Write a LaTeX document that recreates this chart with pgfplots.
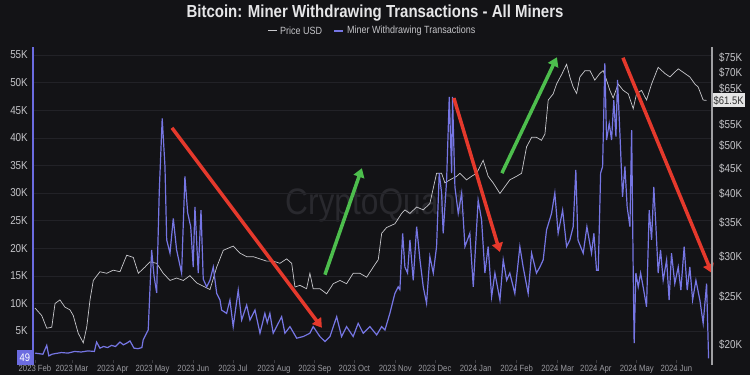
\documentclass[border=0pt]{standalone}
\usepackage{fontspec}
\setmainfont{Liberation Sans}[FakeStretch=0.86]
\usepackage{pgfplots}
\usepackage{pgfplotstable}
\pgfplotsset{compat=1.18}
\usetikzlibrary{arrows.meta}
\definecolor{bg}{HTML}{131316}
\definecolor{gridc}{HTML}{222227}
\definecolor{tickc}{HTML}{3a3a40}
\definecolor{labc}{HTML}{C4C4C8}
\definecolor{xlabc}{HTML}{9A9AA0}
\definecolor{titlec}{HTML}{E6E6E8}
\definecolor{wm}{HTML}{29292E}
\definecolor{minerc}{HTML}{7676E4}
\definecolor{pricec}{HTML}{C8C8CC}
\definecolor{arrowred}{HTML}{E5392C}
\definecolor{arrowgreen}{HTML}{4DBE4D}
\definecolor{boxblue}{HTML}{6B6BE0}

\pgfplotstableread{
day val
0 1.0
6 0.8
8.9 2.4
10.5 0.5
13 0.8
15 0.9
20 1.1
25 1.0
30 1.3
35 1.2
40 1.4
45 1.3
46.7 3.0
49.2 1.9
52 2.2
55 2.0
58 2.4
61 2.2
64.4 3.0
67 2.5
69.5 2.8
72 3.2
75 1.9
78 1.8
81 2.0
82 3.4
85.8 5.2
88.4 19.7
90.2 15.0
92.2 11.9
94.2 30.5
96.4 43.5
98.5 34.8
99.8 21.5
102.3 19.1
104.8 25.4
107.3 19.7
111.1 15.5
113.6 33.0
115.7 26.4
118 23.9
119.9 16.6
121.2 27.5
123.7 15.5
125.8 26.9
127.5 14.4
130.1 13.0
132.6 14.2
135.1 16.6
137.7 11.8
140.2 10.6
141.4 8.8
145.2 8.2
147.7 10.6
150.2 5.8
154 12.4
156.6 7.0
160.4 9.7
162.9 7.0
166.7 8.8
170.5 4.6
174.2 8.2
176 6.5
178 8.2
180.5 4.6
186.9 7.6
189.4 4.6
193.2 5.8
198.3 3.7
203.3 4.0
208.3 4.6
210.8 5.8
215.9 4.0
219.7 3.1
223.5 4.0
228.6 7.6
232.3 4.0
236.1 5.8
241.1 4.0
244.9 6.4
248.7 4.6
253.8 5.8
258.9 4.3
262.7 5.8
265.2 5.2
268.9 8.2
272.7 11.8
275.2 13.0
276.5 12.5
278.6 22.7
280.3 16.6
282.3 15.5
284.1 21.5
286.6 14.2
289.2 23.9
291.7 17.9
294.2 13.0
296.7 10.0
299.2 18.5
301.8 15.5
304.3 20.3
306.3 33.6
308.1 30.0
309.3 22.7
311.9 32.3
313.9 47.4
315.7 33.6
316.4 47.4
318.2 31.1
320.7 26.3
323.3 30.0
325.8 20.3
329.5 22.7
332.1 13.0
335.8 28.7
338.4 25.1
340.9 15.5
343.4 20.3
346 11.2
348.5 15.5
352.3 10.6
354.8 17.9
357.4 14.2
359.8 15.5
363.6 11.8
367.4 20.3
369.9 16.6
373.7 11.8
376.3 19.1
380 15.5
382.6 16.6
385.1 17.9
387.6 23.3
391.4 26.3
393.9 30.0
396.4 22.7
399.8 26.9
402.8 20.3
405.3 21.5
407.8 23.9
409.8 34.2
411.4 21.5
415.4 19.1
418.2 23.9
421.7 19.1
423.5 22.7
425.5 16.0
426.8 16.0
428.6 33.6
430.1 34.8
431.8 53.5
433.1 39.6
435.1 42.6
436.9 39.6
438.6 46.8
440.2 40.2
441.4 50.5
443.2 40.8
445.2 29.3
447 34.8
448.7 27.5
450.8 23.9
452.1 41.4
453.3 15.5
454 2.8
455.3 15.5
457.1 13.0
458.9 15.5
460.8 13.0
463.4 9.4
465.4 26.9
467.2 21.5
468.9 31.1
470.5 23.9
472.2 15.5
474 19.7
476 14.2
478.6 17.9
480.5 10.6
482.3 19.1
484.8 13.6
487.4 16.6
489.4 12.4
491.9 20.3
494.2 12.4
496.2 16.6
498.3 10.6
500.8 14.2
503.8 10.6
506.3 6.4
508.9 13.6
510.4 0.049
}\minertable

\pgfplotstableread{
day val
0 23.7
5.1 22.9
8.9 21.6
12.7 21.7
15.2 24.2
18.9 24.6
22.7 23.8
26.5 23.5
29 22.9
32.8 21.1
36.6 20.2
39.2 21.7
41.7 24.6
44.2 26.9
49.2 28.0
54.3 27.8
59.3 28.2
64.4 28.0
69.5 30.2
74.5 29.9
78.3 27.8
83.3 28.6
87.1 29.3
92.2 29.1
97.2 27.8
102.3 26.9
107.3 27.2
112.4 26.9
117.4 27.5
122.5 26.6
127.5 26.2
132.6 25.8
137.7 28.6
142.7 30.9
150.2 31.5
155.3 30.5
160.4 30.0
165.4 30.0
170.5 29.7
175.5 29.4
180.5 29.4
185.6 29.1
190.7 29.7
194.5 29.1
197 26.1
200.8 26.3
205.8 25.9
208.3 27.8
210.8 25.9
215.9 25.9
221 25.3
226 26.5
231.1 26.9
236.1 26.5
241.1 27.8
246.2 27.8
251.3 27.3
256.3 28.6
260.1 29.6
262.7 33.4
266.4 34.3
272.7 34.9
277.8 36.6
280.3 37.2
284.1 36.6
289.2 37.7
294.2 37.2
299.2 38.3
304.3 44.0
308.1 44.0
310.6 42.1
314.4 42.7
319.5 43.4
322 44.0
327 42.7
330.8 43.4
334.6 44.0
339.6 46.7
343.4 43.4
347.2 42.1
352.3 40.1
356.1 41.4
359.8 42.7
364.9 43.4
368.7 44.0
372.5 49.7
376.3 51.9
380 51.9
383.8 51.2
386.4 52.7
388.9 61.6
392.7 63.4
395.2 66.3
399 69.2
402.8 72.6
405.5 68.2
407.8 65.4
410.4 63.5
412.9 68.5
416.7 70.5
420.5 70.5
424.2 67.5
428 69.6
430.5 70.5
433.1 67.5
435.6 64.4
438.1 62.2
441.9 66.3
445.7 64.4
449.5 63.4
453.3 59.2
455.8 63.4
459.6 64.4
463.4 61.6
467.2 66.3
472.2 71.6
477.3 69.6
481.1 68.5
487.4 71.1
492.4 69.6
496.2 68.5
500 66.3
502.5 65.4
506.3 61.6
508.9 61.5
}\pricetable

\begin{document}
\begin{tikzpicture}[x=1bp,y=1bp]
\fill[bg] (0,0) rectangle (750,375);
\useasboundingbox (0,0) rectangle (750,375);
\node[font=\fontsize{17.5}{19}\selectfont\bfseries, text=titlec] at (375,362) {Bitcoin: Miner Withdrawing Transactions - All Miners};
\draw[pricec, line width=1bp] (268,344) -- (277,344);
\node[anchor=west, inner sep=0pt, font=\fontsize{10.5}{12}\selectfont, text=labc] at (280,344) {Price USD};
\draw[minerc, line width=1.4bp] (334,344) -- (343,344);
\node[anchor=west, inner sep=0pt, font=\fontsize{10.5}{12}\selectfont, text=labc] at (347,344) {Miner Withdrawing Transactions};
\node[font=\fontsize{37}{37}\selectfont, text=wm] at (375,170) {CryptoQuant};

\begin{axis}[at={(33bp,15bp)}, anchor=south west, scale only axis,
  width=679bp, height=313bp,
  xmin=-1.5, xmax=513, ymin=-0.25, ymax=56.45,
  axis line style={draw=none},
  ymajorgrids, grid style={color=gridc, line width=0.6bp},
  xtick={0,28,59,89,120,150,181,212,242,273,303,334,365,396,425,456,486},
  xticklabels={2023 Feb,2023 Mar,2023 Apr,2023 May,2023 Jun,2023 Jul,2023 Aug,2023 Sep,2023 Oct,2023 Nov,2023 Dec,2024 Jan,2024 Feb,2024 Mar,2024 Apr,2024 May,2024 Jun},
  xtick pos=bottom, xtick align=outside, major tick length=3bp,
  xtick style={color=tickc, line width=0.6bp},
  xticklabel style={font=\fontsize{9}{10}\selectfont, text=xlabc, anchor=base, inner sep=0pt},
  xticklabel shift=8bp,
  ytick={5,10,...,55},
  yticklabels={5K,10K,15K,20K,25K,30K,35K,40K,45K,50K,55K},
  ytick pos=left, ytick style={draw=none},
  yticklabel style={font=\fontsize{11.5}{12}\selectfont, text=labc, anchor=east, inner sep=0pt, xshift=-5bp},
]
\end{axis}

\begin{axis}[at={(33bp,15bp)}, anchor=south west, scale only axis,
  width=679bp, height=313bp,
  xmin=-1.5, xmax=513, ymode=log, ymin=18.67, ymax=78.6,
  axis line style={draw=none}, xtick=\empty,
  ytick={20,25,30,35,40,45,50,55,65,70,75},
  yticklabels={\$20K,\$25K,\$30K,\$35K,\$40K,\$45K,\$50K,\$55K,\$65K,\$70K,\$75K},
  ytick pos=right, ytick style={draw=none},
  yticklabel style={font=\fontsize{11.5}{12}\selectfont, text=labc, anchor=west, inner sep=0pt, xshift=7bp},
  clip mode=individual,
]
\addplot[pricec, line width=0.7bp, mark=none] table[x=day, y=val] {\pricetable};
\node[anchor=west, fill=white!90!black, text=black!80, inner sep=1.5bp, minimum height=14bp, font=\fontsize{11}{12}\selectfont] at (axis cs:513,61.5) {\$61.5K};
\end{axis}

\begin{axis}[at={(33bp,15bp)}, anchor=south west, scale only axis,
  width=679bp, height=313bp,
  xmin=-1.5, xmax=513, ymin=-0.25, ymax=56.45,
  hide axis, clip mode=individual,
]
\addplot[minerc, line width=1.2bp, mark=none] table[x=day, y=val] {\minertable};
\draw[arrowred, line width=3.5bp, -{Triangle[length=9bp, width=11bp]}] (axis cs:103.8,41.8) -- (axis cs:217.4,5.6);
\draw[arrowgreen, line width=3.5bp, -{Triangle[length=9bp, width=11bp]}] (axis cs:219.7,15.2) -- (axis cs:247.7,34.5);
\draw[arrowred, line width=3.5bp, -{Triangle[length=9bp, width=11bp]}] (axis cs:317.4,47.2) -- (axis cs:352.3,19.3);
\draw[arrowgreen, line width=3.5bp, -{Triangle[length=9bp, width=11bp]}] (axis cs:353.8,33.6) -- (axis cs:395.5,54.6);
\draw[arrowred, line width=3.5bp, -{Triangle[length=9bp, width=11bp]}] (axis cs:445.5,54.5) -- (axis cs:512.9,15.5);
\node[anchor=east, fill=boxblue, text=white, inner sep=0pt, minimum width=16bp, minimum height=15bp, font=\fontsize{11}{12}\selectfont] at (axis cs:-1.5,0.2) {49};
\end{axis}

\draw[boxblue, line width=2bp] (33,10) -- (33,328);
\draw[pricec!80!black, line width=1.5bp] (712,10) -- (712,328);
\end{tikzpicture}
\end{document}
